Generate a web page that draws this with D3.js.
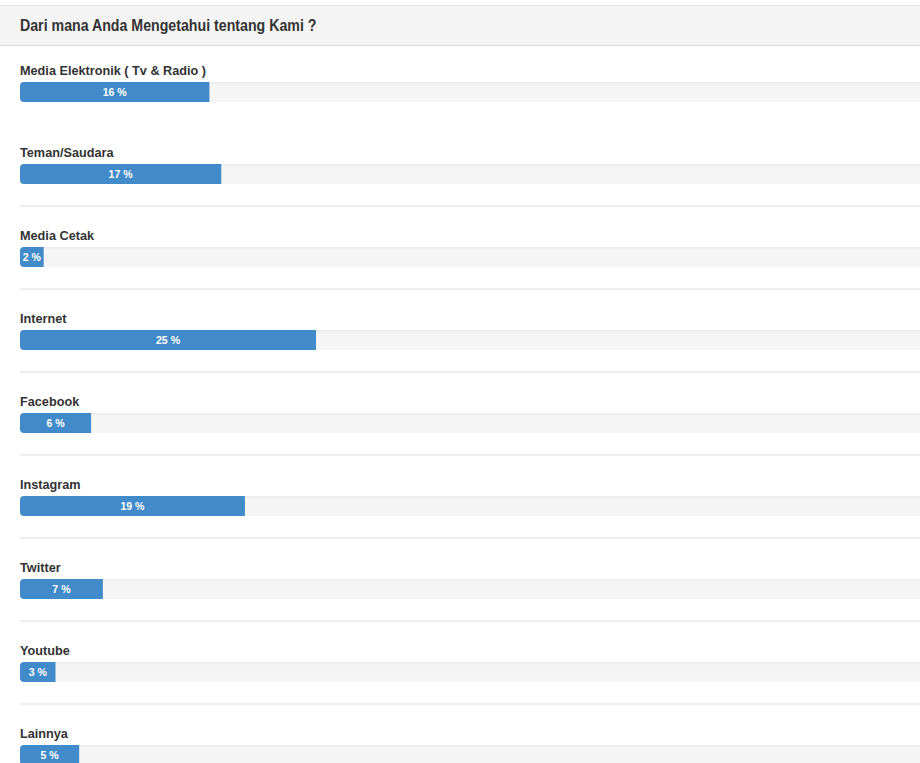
<!DOCTYPE html>
<html>
<head>
<meta charset="utf-8">
<script src="https://cdn.jsdelivr.net/npm/d3@7/dist/d3.min.js"></script>
<style>
  html, body { margin: 0; padding: 0; background: #fff; overflow: hidden; }
  svg { display: block; font-family: "Liberation Sans", Arial, sans-serif; }
</style>
</head>
<body>
<svg id="chart" width="920" height="763"></svg>
<script>
const title = "Dari mana Anda Mengetahui tentang Kami ?";
const categories = ["Media Elektronik ( Tv & Radio )", "Teman/Saudara", "Media Cetak", "Internet", "Facebook", "Instagram", "Twitter", "Youtube", "Lainnya"];
const values = [16, 17, 2, 25, 6, 19, 7, 3, 5];

const svg = d3.select("#chart");
const W = 920, H = 763;

const defs = svg.append("defs");
const grad = defs.append("linearGradient").attr("id", "trackGrad").attr("x1", 0).attr("y1", 0).attr("x2", 0).attr("y2", 1);
grad.append("stop").attr("offset", "0%").attr("stop-color", "#ebebeb");
grad.append("stop").attr("offset", "15%").attr("stop-color", "#f5f5f5");
grad.append("stop").attr("offset", "100%").attr("stop-color", "#f5f5f5");

// header
svg.append("rect").attr("x", 0).attr("y", 5).attr("width", W).attr("height", 41).attr("fill", "#f4f4f4");
svg.append("line").attr("x1", 0).attr("x2", W).attr("y1", 5.5).attr("y2", 5.5).attr("stroke", "#e2e2e2").attr("stroke-width", 1);
svg.append("line").attr("x1", 0).attr("x2", W).attr("y1", 45.5).attr("y2", 45.5).attr("stroke", "#e0e0e0").attr("stroke-width", 1.5);
svg.append("text").attr("transform", "translate(20,31) scale(0.86,1)").attr("fill", "#333")
  .attr("font-size", 16.5).attr("font-weight", "bold").text(title);

const x = d3.scaleLinear().domain([0, 100]).range([20, 1204]);
const y = d3.scaleOrdinal().domain(d3.range(categories.length))
  .range([82, 164, 247, 330, 413, 496, 579, 662, 745]);
const barH = 20;

const rows = svg.append("g").selectAll("g.row")
  .data(categories.map((c, i) => ({ c, v: values[i], i })))
  .join("g").attr("class", "row");

// separators
rows.filter(d => d.i >= 2).append("rect")
  .attr("x", 20).attr("width", W - 20)
  .attr("y", d => y(d.i) - 42).attr("height", 2)
  .attr("fill", "#eeeeee");

// labels
rows.append("text")
  .attr("transform", d => `translate(20,${y(d.i) - 7}) scale(0.94,1)`)
  .attr("fill", "#333").attr("font-size", 13.5).attr("font-weight", "bold")
  .text(d => d.c);

// track
rows.append("rect")
  .attr("x", x(0)).attr("y", d => y(d.i))
  .attr("width", x(100) - x(0)).attr("height", barH)
  .attr("rx", 4).attr("fill", "url(#trackGrad)");

// bar with rounded left corners
rows.append("path")
  .attr("fill", "#428bca")
  .attr("d", d => {
    const x0 = x(0), x1 = x(d.v), y0 = y(d.i), r = 4;
    return `M${x0 + r},${y0} H${x1} V${y0 + barH} H${x0 + r} A${r},${r} 0 0 1 ${x0},${y0 + barH - r} V${y0 + r} A${r},${r} 0 0 1 ${x0 + r},${y0} Z`;
  });

// percent text
rows.append("text")
  .attr("transform", d => `translate(${(x(0) + x(d.v)) / 2},${y(d.i) + 14}) scale(0.92,1)`)
  .attr("text-anchor", "middle")
  .attr("fill", "#fff").attr("font-size", 11.5).attr("font-weight", "bold")
  .text(d => d.v + " %");
</script>
</body>
</html>
